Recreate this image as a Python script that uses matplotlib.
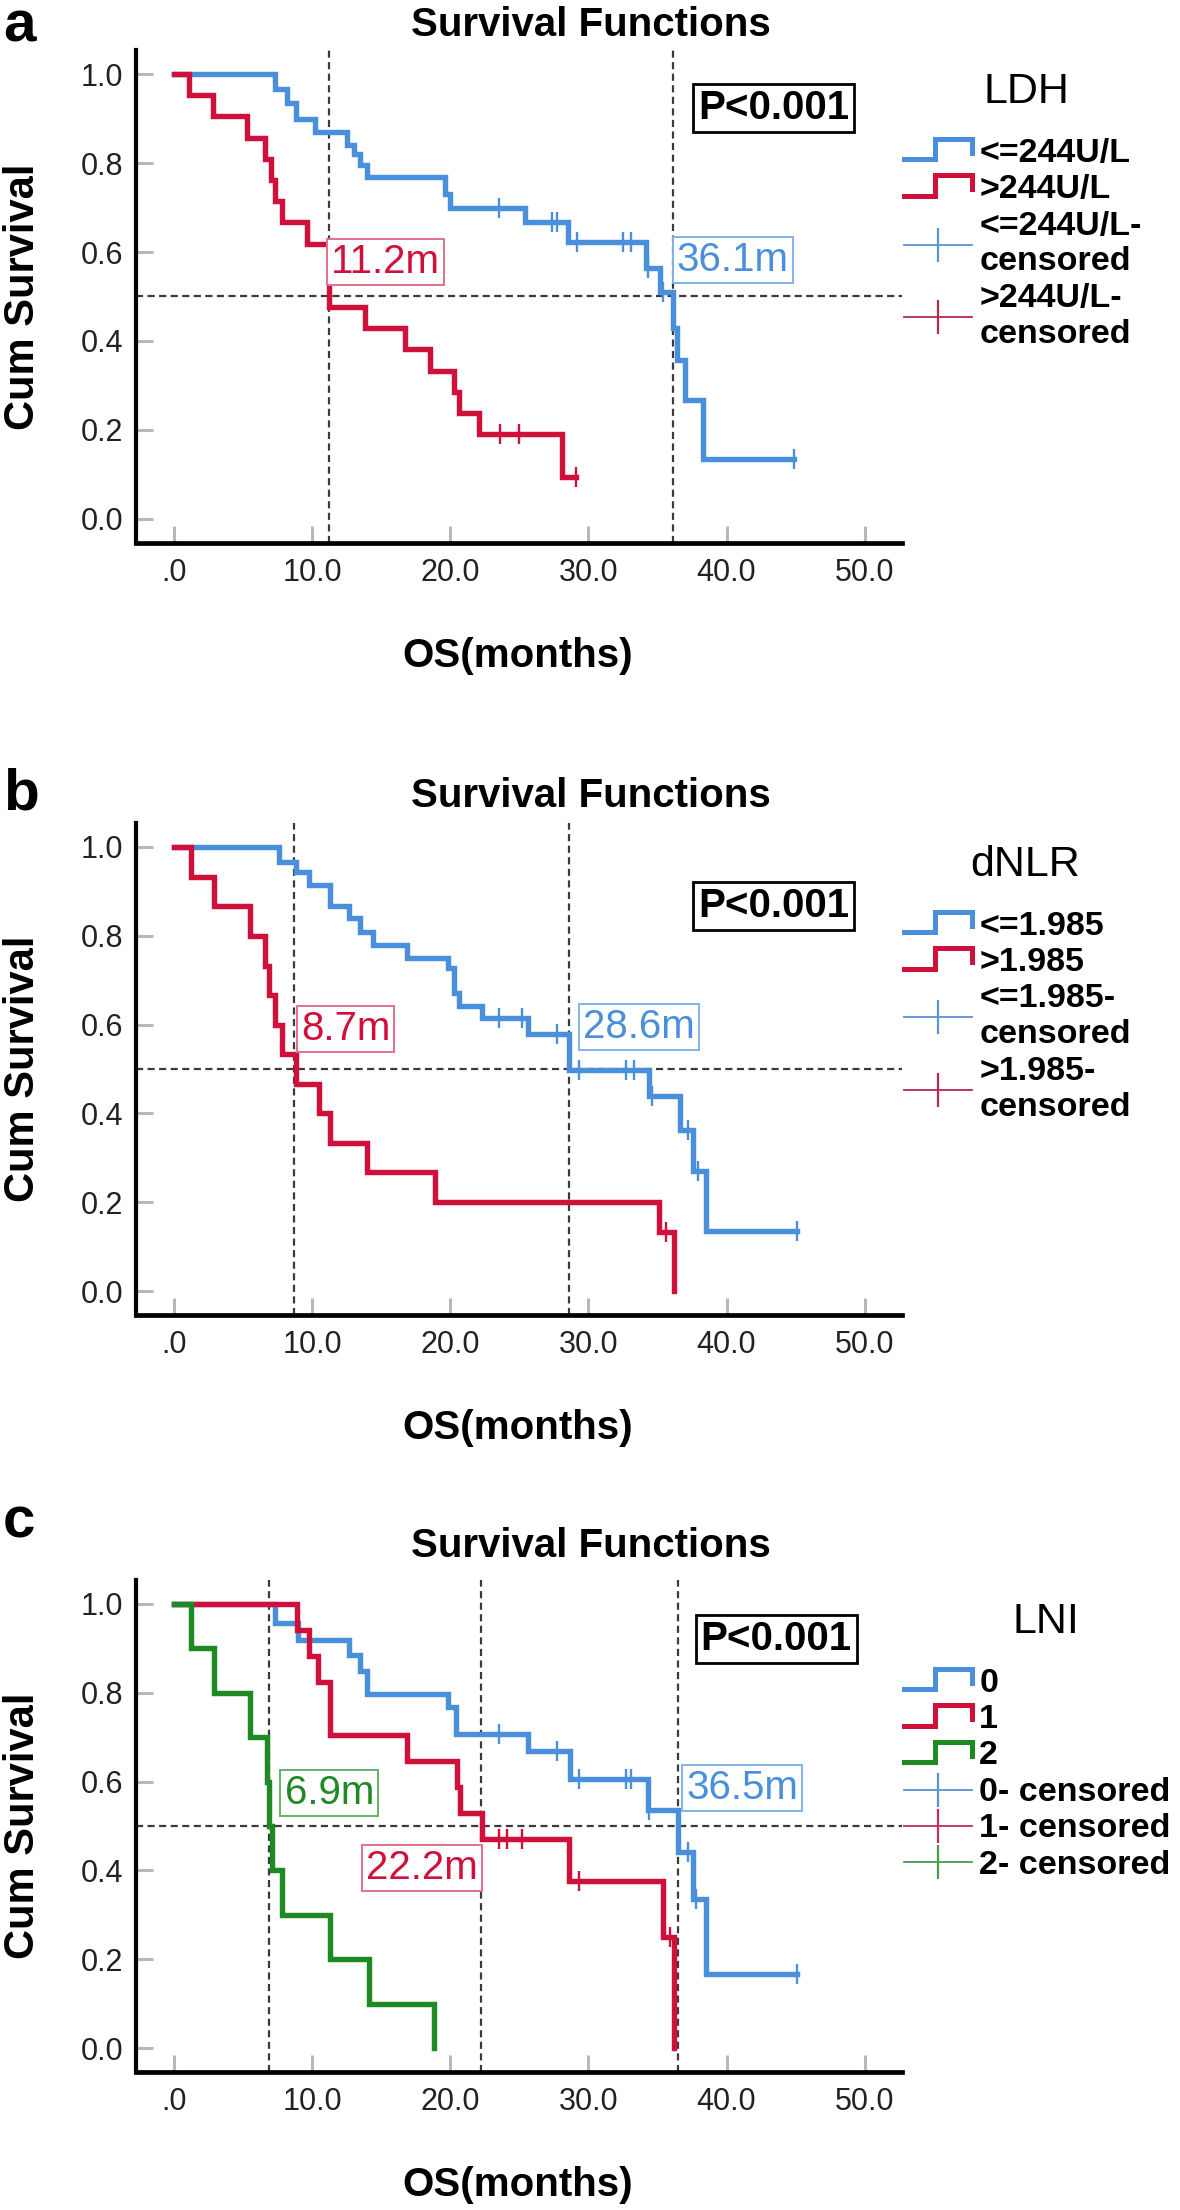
import numpy as np
import matplotlib
matplotlib.use("Agg")
import matplotlib.pyplot as plt
from matplotlib.lines import Line2D
from matplotlib.legend_handler import HandlerBase

plt.rcParams["font.family"] = ["Liberation Sans", "DejaVu Sans"]

BLUE = "#4A8FDB"
RED = "#D0103A"
GREEN = "#1F8A24"

# ---------------- values ----------------
# (a) LDH
ldh_labels = ["<=244U/L", ">244U/L"]
ldh_low_t = [0, 7.3, 8.2, 8.8, 10.2, 12.5, 13.0, 13.5, 14.0, 19.6, 20.0, 25.4, 28.5,
             34.2, 35.2, 36.1, 36.4, 37.0, 38.3]
ldh_low_s = [1.0, .966, .935, .90, .869, .84, .82, .795, .769, .73, .70, .667, .623,
             .564, .51, .43, .357, .267, .135]
ldh_low_cens = [23.5, 27.4, 27.7, 29.2, 32.5, 33.1, 34.3, 35.4, 44.9]
ldh_high_t = [0, 1.1, 2.8, 5.3, 6.6, 7.0, 7.3, 7.8, 9.6, 11.2, 13.8, 16.7, 18.5,
              20.3, 20.6, 22.1, 28.1]
ldh_high_s = [1.0, .952, .905, .857, .810, .762, .714, .667, .619, .476, .429, .381,
              .333, .286, .238, .190, .095]
ldh_high_cens = [23.6, 25.0, 29.1]
ldh_medians = [11.2, 36.1]

# (b) dNLR
dnlr_labels = ["<=1.985", ">1.985"]
dnlr_low_t = [0, 7.6, 8.8, 9.8, 11.3, 12.7, 13.5, 14.4, 16.9, 19.8, 20.3, 20.6, 22.3,
              25.6, 28.6, 34.4, 36.6, 37.6, 38.5]
dnlr_low_s = [1.0, .966, .944, .914, .866, .84, .808, .78, .751, .727, .671, .643, .615,
              .579, .497, .439, .363, .27, .135]
dnlr_low_cens = [23.5, 25.2, 27.7, 29.3, 32.7, 33.3, 34.6, 37.2, 37.9, 45.1]
dnlr_high_t = [0, 1.2, 2.9, 5.5, 6.6, 6.9, 7.3, 7.8, 8.8, 10.5, 11.3, 14.0, 18.9, 35.1, 36.2]
dnlr_high_s = [1.0, .933, .867, .80, .733, .667, .60, .533, .467, .40, .333, .267, .20,
               .133, 0.0]
dnlr_high_cens = [35.6]
dnlr_medians = [8.7, 28.6]

# (c) LNI
lni_labels = ["0", "1", "2"]
lni0_t = [0, 7.3, 9.0, 12.7, 13.5, 14.0, 19.8, 20.4, 25.6, 28.7, 34.3, 36.5, 37.6, 38.5]
lni0_s = [1.0, .958, .918, .885, .85, .798, .768, .708, .67, .605, .535, .442, .335, .167]
lni0_cens = [23.5, 27.7, 29.3, 32.7, 33.1, 34.4, 37.2, 37.8, 45.1]
lni1_t = [0, 8.9, 9.8, 10.4, 11.3, 16.9, 20.5, 20.7, 22.3, 28.6, 35.4, 36.2]
lni1_s = [1.0, .941, .882, .824, .706, .647, .588, .529, .471, .377, .251, 0.0]
lni1_cens = [23.5, 24.1, 25.2, 29.3, 35.9]
lni2_t = [0, 1.2, 2.9, 5.5, 6.7, 6.9, 7.1, 7.8, 11.3, 14.1, 18.8]
lni2_s = [1.0, .9, .8, .7, .6, .5, .4, .3, .2, .1, 0.0]
lni2_cens = []
lni_medians = [6.9, 22.2, 36.5]

x_ticks = [0, 10, 20, 30, 40, 50]
x_ticklabels = [".0", "10.0", "20.0", "30.0", "40.0", "50.0"]
y_ticks = [0.0, 0.2, 0.4, 0.6, 0.8, 1.0]
y_ticklabels = ["0.0", "0.2", "0.4", "0.6", "0.8", "1.0"]

W, H = 1180, 2210


class StepHandler(HandlerBase):
    # SPSS-like step icon for the survival curves
    def create_artists(self, legend, orig_handle, xdescent, ydescent, width, height,
                       fontsize, trans):
        x0, y0 = -xdescent, -ydescent
        xs = [x0, x0 + 0.45 * width, x0 + 0.45 * width, x0 + width, x0 + width]
        ys = [y0 + 0.05 * height, y0 + 0.05 * height, y0 + 1.0 * height,
              y0 + 1.0 * height, y0 + 0.35 * height]
        ln = Line2D(xs, ys, color=orig_handle.get_color(), lw=orig_handle.get_linewidth(),
                    solid_joinstyle="miter", transform=trans)
        return [ln]


def km_panel(ax, groups, medians, med_text, p_xy, leg_title, leg_title_x, cens_labels):
    for g in groups:
        t, s = list(g["t"]), list(g["s"])
        end = max(list(g["cens"]) + [t[-1]])
        ax.step(t + [end], s + [s[-1]], where="post", color=g["color"], lw=3.9,
                zorder=4, solid_joinstyle="miter")
        if g["cens"]:
            idx = np.searchsorted(t, g["cens"], side="right") - 1
            ax.plot(g["cens"], np.array(s)[idx], ls="none", marker="|", ms=14, mew=1.7,
                    color=g["color"], zorder=5)

    ax.axhline(0.5, color="#3a3a3a", lw=1.6, dashes=(3.2, 2), zorder=2)
    for m in medians:
        ax.axvline(m, color="#3a3a3a", lw=1.6, dashes=(3.2, 2), zorder=2)

    for (x, y, ha, col, ecol), txt in zip(med_text, [f"{m}m" for m in medians]):
        ax.text(x, y, txt, ha=ha, va="center", color=col, fontsize=29, zorder=6,
                bbox=dict(boxstyle="square,pad=0.1", fc="white", ec=ecol, lw=1.4))

    ax.text(p_xy[0], p_xy[1], "P<0.001", ha="center", va="center", fontsize=29,
            fontweight="bold", zorder=6,
            bbox=dict(boxstyle="square,pad=0.12", fc="white", ec="black", lw=2))

    ax.set_xlim(-2.75, 52.7)
    ax.set_ylim(-0.054, 1.054)
    ax.set_xticks(x_ticks)
    ax.set_xticklabels(x_ticklabels)
    ax.set_yticks(y_ticks)
    ax.set_yticklabels(y_ticklabels)
    ax.tick_params(direction="in", length=12, width=2.2, color="#b8b8b8",
                   labelsize=22, labelcolor="#222222")
    ax.tick_params(axis="x", pad=11)
    ax.tick_params(axis="y", pad=9)
    for side in ["top", "right"]:
        ax.spines[side].set_visible(False)
    ax.spines["left"].set_linewidth(3.0)
    ax.spines["bottom"].set_linewidth(3.4)

    # legend
    step_h = [Line2D([], [], color=g["color"], lw=3.6) for g in groups]
    cens_h = [Line2D([], [], color=g["lcolor"], lw=1.3, marker="|", ms=24, mew=1.6)
              for g in groups]
    labels = [g["label"] for g in groups] + cens_labels
    ax.legend(step_h + cens_h, labels, handler_map={h: StepHandler() for h in step_h},
              loc="upper left", bbox_to_anchor=(1.003, 0.822), frameon=False,
              borderpad=0, borderaxespad=0, handlelength=2.0, handleheight=0.6,
              handletextpad=0.2, labelspacing=0.16,
              prop=dict(family="Liberation Sans", weight="bold", size=24.5))
    ax.text(leg_title_x, 0.915, leg_title, transform=ax.transAxes, ha="center",
            va="center", fontsize=31)


fig = plt.figure(figsize=(W / 100, H / 100), dpi=100)

# axes rectangles in pixels: left, top, right, bottom
boxes = [(136, 50, 902, 543), (136, 823, 902, 1315), (136, 1580, 902, 2072)]
axes = [fig.add_axes([l / W, 1 - b / H, (r - l) / W, (b - t) / H]) for l, t, r, b in boxes]

km_panel(axes[0],
         [dict(t=ldh_low_t, s=ldh_low_s, cens=ldh_low_cens, color=BLUE, lcolor="#5B93D3",
               label=ldh_labels[0]),
          dict(t=ldh_high_t, s=ldh_high_s, cens=ldh_high_cens, color=RED, lcolor="#B52A4E",
               label=ldh_labels[1])],
         ldh_medians,
         [(11.35, 0.578, "left", RED, "#E4708A"), (36.4, 0.583, "left", BLUE, "#80B2EA")],
         (43.4, 0.924), "LDH", 1.162,
         [ldh_labels[0] + "-\ncensored", ldh_labels[1] + "-\ncensored"])

km_panel(axes[1],
         [dict(t=dnlr_low_t, s=dnlr_low_s, cens=dnlr_low_cens, color=BLUE, lcolor="#5B93D3",
               label=dnlr_labels[0]),
          dict(t=dnlr_high_t, s=dnlr_high_s, cens=dnlr_high_cens, color=RED, lcolor="#B52A4E",
               label=dnlr_labels[1])],
         dnlr_medians,
         [(9.2, 0.59, "left", RED, "#E4708A"), (29.6, 0.595, "left", BLUE, "#80B2EA")],
         (43.4, 0.867), "dNLR", 1.161,
         [dnlr_labels[0] + "-\ncensored", dnlr_labels[1] + "-\ncensored"])

km_panel(axes[2],
         [dict(t=lni0_t, s=lni0_s, cens=lni0_cens, color=BLUE, lcolor="#5B93D3",
               label=lni_labels[0]),
          dict(t=lni1_t, s=lni1_s, cens=lni1_cens, color=RED, lcolor="#C0305A",
               label=lni_labels[1]),
          dict(t=lni2_t, s=lni2_s, cens=lni2_cens, color=GREEN, lcolor="#4A9A4E",
               label=lni_labels[2])],
         lni_medians,
         [(8.0, 0.575, "left", GREEN, "#66B266"), (22.0, 0.405, "right", RED, "#E4708A"),
          (37.1, 0.585, "left", BLUE, "#80B2EA")],
         (43.6, 0.921), "LNI", 1.188,
         [f"{l}- censored" for l in lni_labels])

# titles, panel letters, axis labels (pixel positions)
for (l, t, r, b), letter, tb, lb in zip(boxes, ["a", "b", "c"], [36, 807, 1557], [42, 809, 1538]):
    fig.text(591 / W, 1 - tb / H, "Survival Functions", ha="center", va="baseline",
             fontsize=29, fontweight="bold")
    fig.text(3 / W, 1 - lb / H, letter, ha="left", va="baseline", fontsize=42,
             fontweight="bold")
    fig.text(23 / W, 1 - (t + b) / 2 / H, "Cum Survival", rotation=90, ha="center",
             va="center", fontsize=30, fontweight="bold")
    fig.text(518 / W, 1 - (b + 113) / H, "OS(months)", ha="center", va="center",
             fontsize=29, fontweight="bold")

fig.savefig("out.png", dpi=100)
